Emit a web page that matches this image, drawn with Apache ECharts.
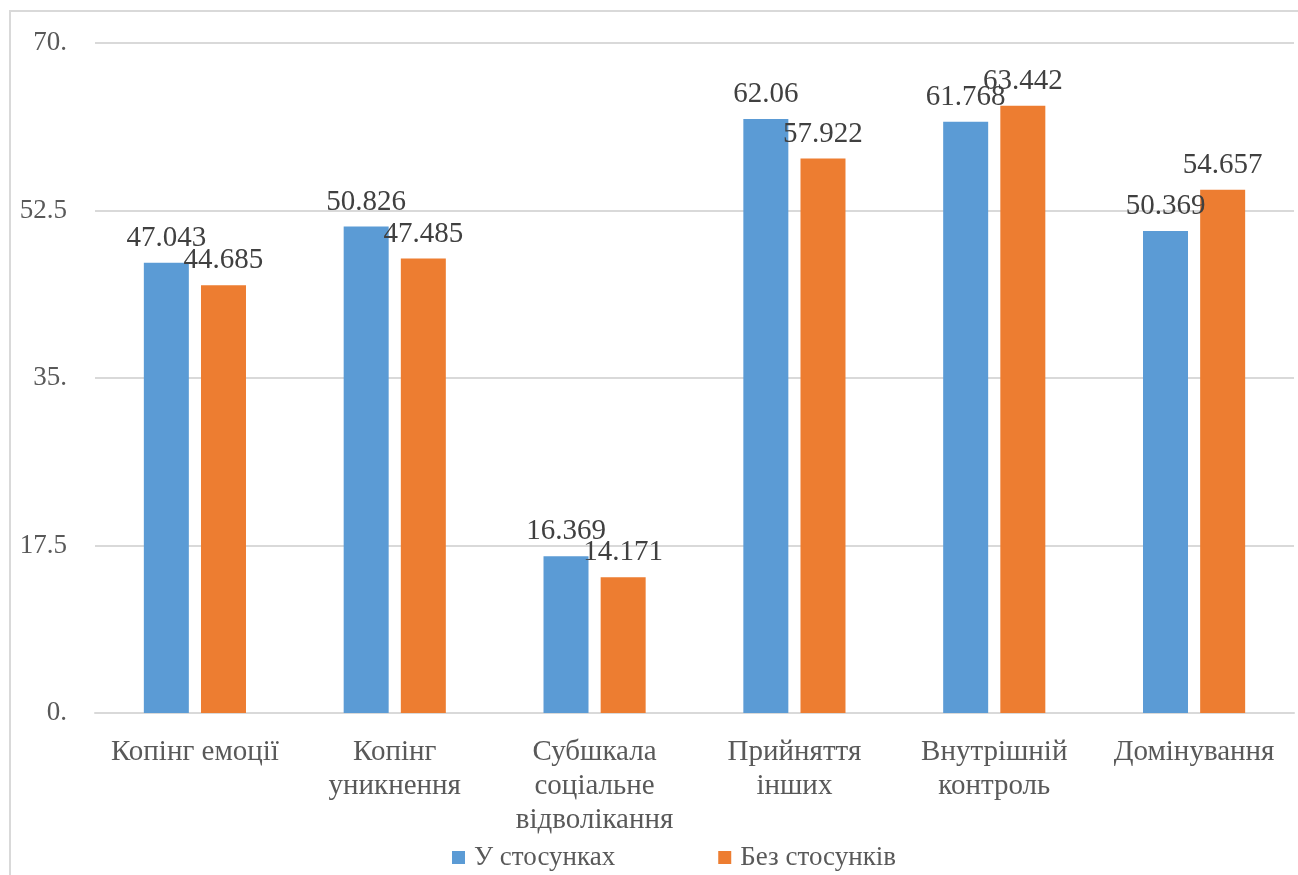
<!DOCTYPE html>
<html>
<head>
<meta charset="utf-8">
<script src="https://cdn.jsdelivr.net/npm/echarts@6/dist/echarts.min.js"></script>
<style>
  html, body { margin: 0; padding: 0; background: #fff; }
  #chart { width: 1298px; height: 875px; }
</style>
</head>
<body>
<div id="chart"></div>
<script>
// Categories and series values
const categories = ['Копінг емоції', 'Копінг\nуникнення', 'Субшкала\nсоціальне\nвідволікання', 'Прийняття\nінших', 'Внутрішній\nконтроль', 'Домінування'];
const seriesNames = ['У стосунках', 'Без стосунків'];
const inRelationship = [47.043, 50.826, 16.369, 62.06, 61.768, 50.369];
const noRelationship = [44.685, 47.485, 14.171, 57.922, 63.442, 54.657];
// Y-axis tick labels
const yTickLabels = { 0: '0.', 17.5: '17.5', 35: '35.', 52.5: '52.5', 70: '70.' };

const FONT = '"Liberation Serif", "Times New Roman", serif';
const chart = echarts.init(document.getElementById('chart'));

const labelStyle = {
  show: true,
  position: 'top',
  distance: 10,
  fontFamily: FONT,
  fontSize: 29,
  color: '#404040',
  formatter: p => String(p.value)
};

chart.setOption({
  animation: false,
  backgroundColor: '#ffffff',
  graphic: [{
    type: 'rect',
    shape: { x: 10, y: 11, width: 1300, height: 880 },
    style: { fill: 'none', stroke: '#D9D9D9', lineWidth: 2 },
    silent: true
  }],
  grid: { left: 95, right: 4, top: 43, bottom: 162, containLabel: false },
  legend: {
    data: seriesNames,
    top: 844,
    left: 452,
    padding: 0,
    itemWidth: 13,
    itemHeight: 13,
    itemGap: 103,
    icon: 'rect',
    textStyle: { fontFamily: FONT, fontSize: 27, color: '#595959', padding: [0, 0, 0, 4] }
  },
  xAxis: {
    type: 'category',
    data: categories,
    axisLine: { show: true, lineStyle: { color: '#D9D9D9', width: 2 } },
    axisTick: { show: false },
    axisLabel: {
      interval: 0,
      margin: 22,
      fontFamily: FONT,
      fontSize: 29,
      lineHeight: 34,
      color: '#595959'
    }
  },
  yAxis: {
    type: 'value',
    min: 0,
    max: 70,
    interval: 17.5,
    axisLine: { show: false },
    axisTick: { show: false },
    splitLine: { lineStyle: { color: '#D9D9D9', width: 2 } },
    axisLabel: {
      margin: 28,
      fontFamily: FONT,
      fontSize: 27,
      color: '#595959',
      formatter: v => yTickLabels[v] !== undefined ? yTickLabels[v] : String(v)
    }
  },
  series: [
    {
      name: seriesNames[0],
      type: 'bar',
      data: inRelationship,
      barWidth: 45,
      barGap: '27%',
      itemStyle: { color: '#5B9BD5' },
      label: labelStyle
    },
    {
      name: seriesNames[1],
      type: 'bar',
      data: noRelationship,
      barWidth: 45,
      barGap: '27%',
      itemStyle: { color: '#ED7D31' },
      label: labelStyle
    }
  ]
});
</script>
</body>
</html>
